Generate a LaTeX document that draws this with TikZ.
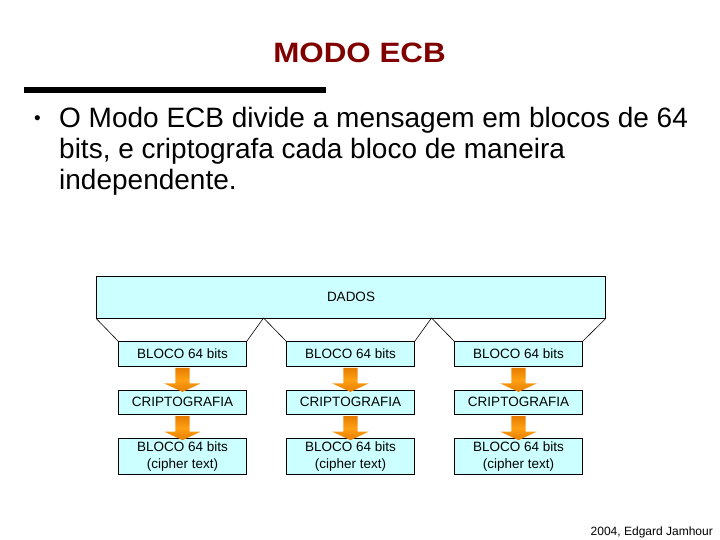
\documentclass[tikz,border=0pt]{standalone}
\usepackage{fontspec}
\setmainfont{Liberation Sans}
\usetikzlibrary{shapes.arrows, positioning}

\definecolor{titlered}{RGB}{128,0,0}
\definecolor{boxcyan}{RGB}{204,255,255}
\definecolor{arroworange}{RGB}{255,160,20}
\definecolor{arrowdark}{RGB}{230,125,0}

\begin{document}
\begin{tikzpicture}[
    x=1pt, y=-1pt,
    block/.style={draw, line width=0.8pt, fill=boxcyan, minimum width=128pt, inner sep=0pt,
        align=center, font=\fontsize{13.5}{16.5}\selectfont},
    flow/.style={single arrow, rotate=-90, draw=none, inner xsep=0pt, inner ysep=7pt,
        minimum height=24pt, minimum width=36pt,
        single arrow head extend=11pt, single arrow tip angle=130,
        top color=arrowdark, bottom color=arrowdark, middle color=arroworange},
    split/.style={draw, line width=0.6pt}
]

% Page frame
\useasboundingbox[fill=white] (0,0) rectangle (720,540);

% Title and rule
\node[anchor=base, text=titlered, font=\fontsize{28}{30}\selectfont\bfseries, inner sep=0pt]
    (Title) at (359.5, 62.7) {\scalebox{1.12}[1]{MODO ECB}};
\draw[line width=5.5pt] (24,90) -- (326,90);

% Bullet text
\node[font=\fontsize{19}{20}\selectfont, inner sep=0pt] (Dot) at (37.5, 120) {\textbullet};
\node[anchor=north west, align=left, inner sep=0pt, font=\fontsize{28}{31}\selectfont]
    (Text) at (59, 107.3) {O Modo ECB divide a mensagem em blocos de 64\\
    bits, e criptografa cada bloco de maneira\\
    independente.};

% Data block
\node[block, minimum width=509pt, minimum height=42pt] (Dados) at (351, 297) {DADOS};
\coordinate (D_a) at (263.5, 318);
\coordinate (D_b) at (431.5, 318);

% Plain blocks
\node[block, minimum height=25pt] (In_1) at (182.5, 354) {BLOCO 64 bits};
\node[block, minimum height=25pt] (In_2) at (350.5, 354) {BLOCO 64 bits};
\node[block, minimum height=25pt] (In_3) at (518.5, 354) {BLOCO 64 bits};

% Cipher step
\node[block, minimum height=24.5pt] (Cr_1) at (182.5, 402.25) {CRIPTOGRAFIA};
\node[block, minimum height=24.5pt] (Cr_2) at (350.5, 402.25) {CRIPTOGRAFIA};
\node[block, minimum height=24.5pt] (Cr_3) at (518.5, 402.25) {CRIPTOGRAFIA};

% Cipher blocks
\node[block, minimum height=36pt] (Out_1) at (182.5, 456.5) {BLOCO 64 bits\\(cipher text)};
\node[block, minimum height=36pt] (Out_2) at (350.5, 456.5) {BLOCO 64 bits\\(cipher text)};
\node[block, minimum height=36pt] (Out_3) at (518.5, 456.5) {BLOCO 64 bits\\(cipher text)};

% Split of the data
\draw[split] (Dados.south west) -- (In_1.north west);
\draw[split] (D_a) -- (In_1.north east);
\draw[split] (D_a) -- (In_2.north west);
\draw[split] (D_b) -- (In_2.north east);
\draw[split] (D_b) -- (In_3.north west);
\draw[split] (Dados.south east) -- (In_3.north east);

% Arrows
\path (In_1) -- node[flow] (A_1) {} (Cr_1);
\path (In_2) -- node[flow] (A_2) {} (Cr_2);
\path (In_3) -- node[flow] (A_3) {} (Cr_3);
\path (Cr_1) -- node[flow] (B_1) {} (Out_1);
\path (Cr_2) -- node[flow] (B_2) {} (Out_2);
\path (Cr_3) -- node[flow] (B_3) {} (Out_3);

% Footer
\node[anchor=base east, inner sep=0pt, font=\fontsize{12}{14}\selectfont]
    (Foot) at (713, 535) {2004, Edgard Jamhour};

\end{tikzpicture}
\end{document}
